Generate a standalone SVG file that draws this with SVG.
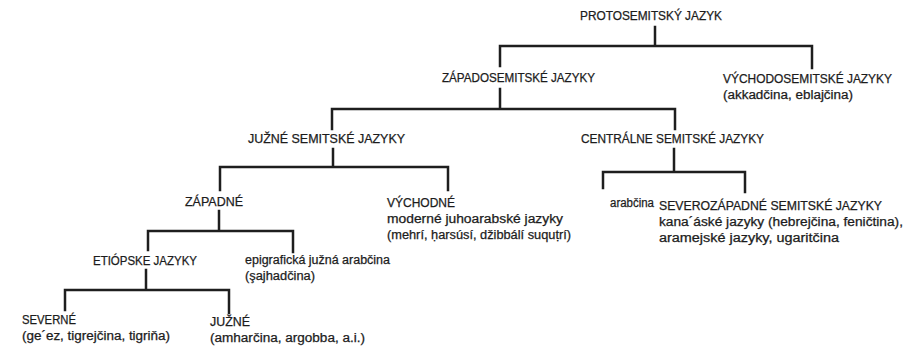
<svg xmlns="http://www.w3.org/2000/svg" width="916" height="352" viewBox="0 0 916 352">
<style>
text{font-family:"Liberation Sans",Arial,sans-serif;font-size:12px;fill:#1c1c1c;stroke:#1c1c1c;stroke-width:0.25}
.c{stroke:#1e1e1e;stroke-width:2.5;fill:none;stroke-linejoin:miter;stroke-linecap:square}
</style>
<rect width="916" height="352" fill="#fff"/>
<g id="connectors">
<path class="c" d="M655,27V46M500,66V46H812V68"/>
<path class="c" d="M500,89V109M332,129V109H675V129"/>
<path class="c" d="M333,149V167M220,190V167H448V190"/>
<path class="c" d="M674,149V172M603,188V172H745V192"/>
<path class="c" d="M219,211V231M148,250V231H293V252"/>
<path class="c" d="M146,270V290M65,310V290H229V313"/>
</g>
<g id="n-proto"><text x="580" y="20" textLength="142" lengthAdjust="spacingAndGlyphs">PROTOSEMITSKÝ JAZYK</text></g>
<g id="n-zapadosem"><text x="442" y="82" textLength="153" lengthAdjust="spacingAndGlyphs">ZÁPADOSEMITSKÉ JAZYKY</text></g>
<g id="n-vychodosem"><text x="723" y="83" textLength="169" lengthAdjust="spacingAndGlyphs">VÝCHODOSEMITSKÉ JAZYKY</text><text x="723" y="99" textLength="130" lengthAdjust="spacingAndGlyphs">(akkadčina, eblajčina)</text></g>
<g id="n-juzne-sem"><text x="248" y="143" textLength="157" lengthAdjust="spacingAndGlyphs">JUŽNÉ SEMITSKÉ JAZYKY</text></g>
<g id="n-centralne"><text x="581" y="143" textLength="183" lengthAdjust="spacingAndGlyphs">CENTRÁLNE SEMITSKÉ JAZYKY</text></g>
<g id="n-zapadne"><text x="185" y="206" textLength="58" lengthAdjust="spacingAndGlyphs">ZÁPADNÉ</text></g>
<g id="n-vychodne"><text x="387" y="207" textLength="68" lengthAdjust="spacingAndGlyphs">VÝCHODNÉ</text><text x="387" y="223" textLength="176" lengthAdjust="spacingAndGlyphs">moderné juhoarabské jazyky</text><text x="387" y="239" textLength="184" lengthAdjust="spacingAndGlyphs">(mehrí, ḥarsúsí, džibbálí  suquṭrí)</text></g>
<g id="n-arabcina"><text x="610" y="207" textLength="44" lengthAdjust="spacingAndGlyphs">arabčina</text></g>
<g id="n-severozap"><text x="659" y="210" textLength="223" lengthAdjust="spacingAndGlyphs">SEVEROZÁPADNÉ SEMITSKÉ JAZYKY</text><text x="659" y="226" textLength="244" lengthAdjust="spacingAndGlyphs">kana´áské jazyky (hebrejčina, feničtina),</text><text x="659" y="242" textLength="180" lengthAdjust="spacingAndGlyphs">aramejské jazyky, ugaritčina</text></g>
<g id="n-etiopske"><text x="93" y="265" textLength="104" lengthAdjust="spacingAndGlyphs">ETIÓPSKE JAZYKY</text></g>
<g id="n-epigraf"><text x="245" y="264" textLength="145" lengthAdjust="spacingAndGlyphs">epigrafická južná arabčina</text><text x="245" y="280" textLength="70" lengthAdjust="spacingAndGlyphs">(şajhadčina)</text></g>
<g id="n-severne"><text x="22" y="324" textLength="54" lengthAdjust="spacingAndGlyphs">SEVERNÉ</text><text x="22" y="340" textLength="148" lengthAdjust="spacingAndGlyphs">(ge´ez, tigrejčina, tigriňa)</text></g>
<g id="n-juzne"><text x="210" y="326" textLength="40" lengthAdjust="spacingAndGlyphs">JUŽNÉ</text><text x="210" y="342" textLength="155" lengthAdjust="spacingAndGlyphs">(amharčina, argobba, a.i.)</text></g>
</svg>
